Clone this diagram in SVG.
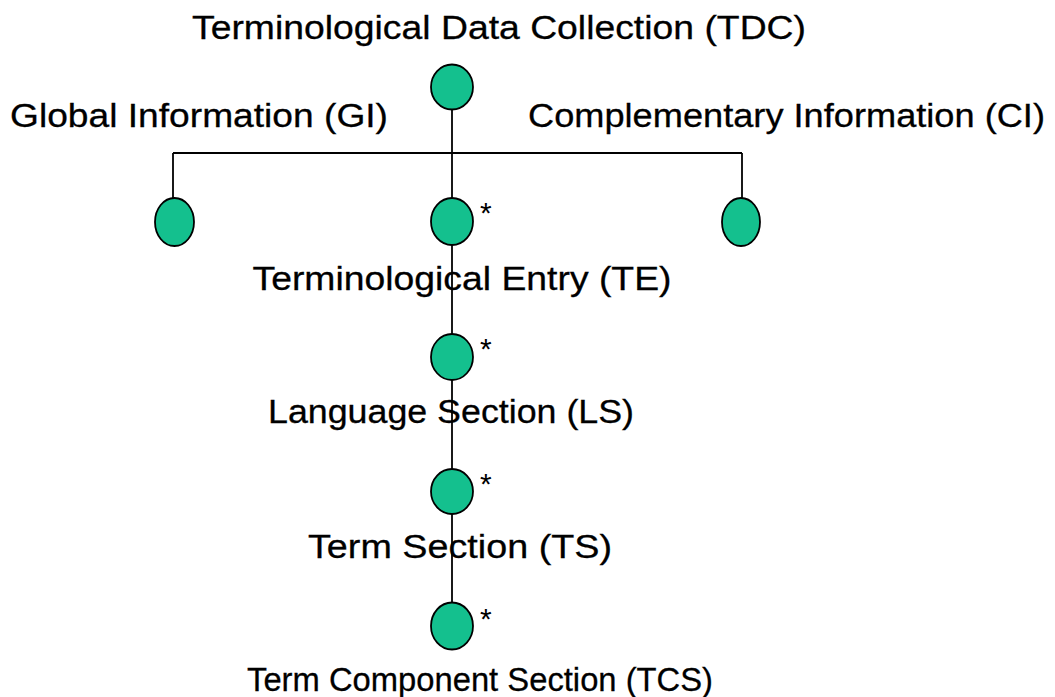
<svg xmlns="http://www.w3.org/2000/svg" width="1055" height="697" viewBox="0 0 1055 697">
  <style>
    .lbl { font-family: "Liberation Sans", Arial, sans-serif; font-size: 34px; fill: #000; stroke: #000; stroke-width: 0.3; text-anchor: middle; }
    .star { font-family: "Liberation Sans", Arial, sans-serif; font-size: 30px; fill: #000; }
    .node { fill: #14c08e; stroke: #000; stroke-width: 1.8; }
    .link { stroke: #000; stroke-width: 1.8; fill: none; }
  </style>
  <rect width="1055" height="697" fill="#fff"/>

  <!-- tree edges -->
  <g id="connectors">
    <line class="link" x1="452" y1="100" x2="452" y2="612"/>
    <line class="link" x1="173" y1="153" x2="742" y2="153"/>
    <line class="link" x1="173" y1="153" x2="173" y2="205"/>
    <line class="link" x1="742" y1="153" x2="742" y2="205"/>
  </g>

  <g id="tdc">
    <text class="lbl" x="499" y="39" textLength="614" lengthAdjust="spacingAndGlyphs">Terminological Data Collection (TDC)</text>
    <ellipse class="node" cx="452" cy="87" rx="21" ry="22.5"/>
  </g>

  <g id="gi">
    <text class="lbl" x="199" y="127" textLength="378" lengthAdjust="spacingAndGlyphs">Global Information (GI)</text>
    <ellipse class="node" cx="174.5" cy="222" rx="19.5" ry="24"/>
  </g>

  <g id="ci">
    <text class="lbl" x="786.5" y="127" textLength="517" lengthAdjust="spacingAndGlyphs">Complementary Information (CI)</text>
    <ellipse class="node" cx="741" cy="222" rx="19" ry="24"/>
  </g>

  <g id="te">
    <ellipse class="node" cx="452" cy="221.5" rx="21" ry="23.5"/>
    <text class="star" x="480" y="223">*</text>
    <text class="lbl" x="462" y="290" textLength="419" lengthAdjust="spacingAndGlyphs">Terminological Entry (TE)</text>
  </g>

  <g id="ls">
    <ellipse class="node" cx="452" cy="357" rx="21" ry="23"/>
    <text class="star" x="480" y="359">*</text>
    <text class="lbl" x="451" y="423" textLength="366" lengthAdjust="spacingAndGlyphs">Language Section (LS)</text>
  </g>

  <g id="ts">
    <ellipse class="node" cx="452" cy="491.5" rx="21" ry="22.5"/>
    <text class="star" x="480" y="494">*</text>
    <text class="lbl" x="460" y="558" textLength="304" lengthAdjust="spacingAndGlyphs">Term Section (TS)</text>
  </g>

  <g id="tcs">
    <ellipse class="node" cx="452" cy="626" rx="21" ry="23.5"/>
    <text class="star" x="480" y="629">*</text>
    <text class="lbl" x="480" y="691" textLength="466" lengthAdjust="spacingAndGlyphs">Term Component Section (TCS)</text>
  </g>
</svg>
